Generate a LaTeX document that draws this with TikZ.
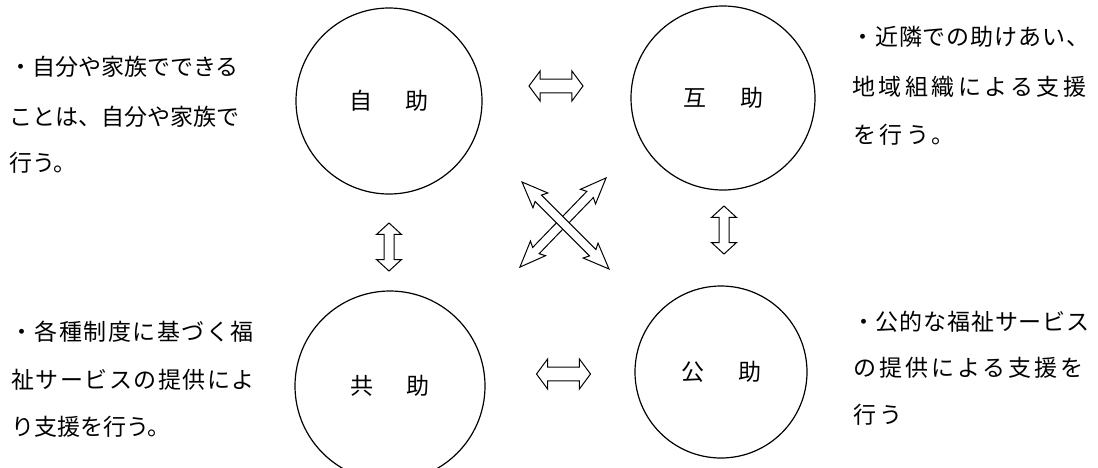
\documentclass[tikz,border=0pt]{standalone}
\usepackage{fontspec}
\setmainfont{Noto Sans CJK JP}
\usetikzlibrary{shapes.arrows}
\newcommand\spaced[2]{{\addfontfeature{LetterSpace=#1}#2}}

\begin{document}
\begin{tikzpicture}[x=1pt,y=-1pt,
  help/.style={circle,draw,line width=1.2pt,inner sep=0pt,font=\fontsize{23}{23}\selectfont},
  note/.style={anchor=west,inner sep=0pt,font=\fontsize{23}{23}\selectfont},
  hollow/.style={double arrow,draw,fill=white,line width=1pt,inner xsep=0pt},
  flatarrow/.style={hollow,inner ysep=6.3pt,minimum width=29pt,double arrow head extend=8.2pt,double arrow tip angle=107,minimum height=54pt},
  uparrow/.style={hollow,rotate=90,inner ysep=4.5pt,minimum width=24pt,double arrow head extend=7.5pt,double arrow tip angle=95,minimum height=48pt},
  slantarrow/.style={hollow,inner ysep=4pt,minimum width=20pt,double arrow head extend=6pt,double arrow tip angle=44,double arrow head indent=3pt}]
\useasboundingbox (0,0) rectangle (1098,467);
\node[help,minimum size=186pt] (jijo) at (389,101) {自\hspace{34pt}助};
\node[help,minimum size=184pt] (gojo) at (723,98) {互\hspace{34pt}助};
\node[help,minimum size=190pt] (kyojo) at (390,386) {共\hspace{34pt}助};
\node[help,minimum size=172pt] (kojo) at (721,372) {公\hspace{34pt}助};
\node[flatarrow] (jigo) at (556,86) {};
\node[flatarrow] (kyoko) at (563.5,374) {};
\node[uparrow] (jikyo) at (389,247) {};
\node[uparrow] (goko) at (724,230) {};
\node[slantarrow,rotate=46,minimum height=124pt] (kyogo) at (563,222.5) {};
\node[slantarrow,rotate=-45,minimum height=123pt] (jiko) at (565.5,225.5) {};
\node[note] (jitext1) at (9,67) {・自分や家族でできる};
\node[note] (jitext2) at (9,117) {ことは、自分や家族で};
\node[note] (jitext3) at (9,163) {行う。};
\node[note] (gotext1) at (851,37) {\spaced{4}{・近隣での助けあい、}};
\node[note] (gotext2) at (852,87) {\spaced{15}{地域組織による支援}};
\node[note] (gotext3) at (853,135) {\spaced{15}{を行う。}};
\node[note] (kyotext1) at (10,332) {\spaced{6.5}{・各種制度に基づく福}};
\node[note] (kyotext2) at (11,380) {\spaced{6.5}{祉サービスの提供によ}};
\node[note] (kyotext3) at (11,427) {り支援を行う。};
\node[note] (kotext1) at (852,322) {\spaced{3.5}{・公的な福祉サービス}};
\node[note] (kotext2) at (853,368) {\spaced{13}{の提供による支援を}};
\node[note] (kotext3) at (853,415) {\spaced{13}{行う}};
\end{tikzpicture}
\end{document}
